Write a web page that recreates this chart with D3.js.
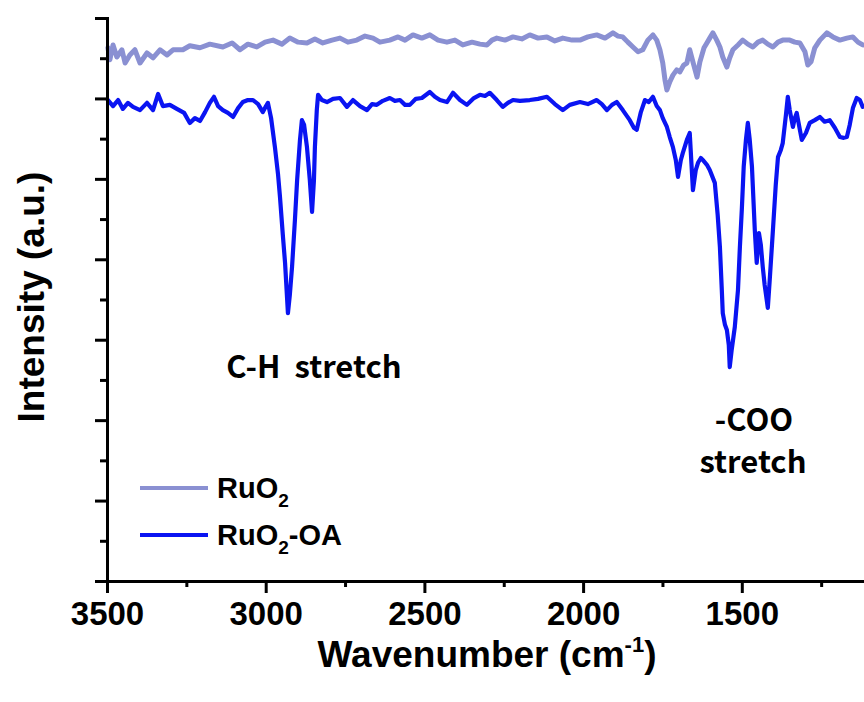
<!DOCTYPE html>
<html>
<head>
<meta charset="utf-8">
<script src="https://cdn.jsdelivr.net/npm/d3@7"></script>
<style>
  html, body { margin: 0; padding: 0; background: #fff; }
  svg { display: block; }
  .axis path, .axis line { stroke: #000; stroke-width: 3; }
  .axis text { font-family: 'Liberation Sans', Arial, sans-serif; font-weight: bold; font-size: 33px; fill: #000; }
</style>
</head>
<body>
<div id="chart"></div>
<script>
// FTIR spectra, values
// [wavenumber (cm-1), intensity (a.u., offset)]
const ruo2 = [
  [3497,13.26],[3491,12.96],[3481,13.33],[3469,13.03],[3453,13.21],[3443,12.88],[3428,13.08],[3412,13.21],
  [3396,12.88],[3374,13.13],[3355,13.01],[3333,13.21],[3311,13.08],[3292,13.21],[3261,13.21],[3239,13.31],
  [3207,13.26],[3176,13.35],[3135,13.28],[3106,13.38],[3081,13.21],[3056,13.35],[3028,13.28],[3002,13.40],
  [2977,13.45],[2949,13.35],[2924,13.50],[2898,13.40],[2870,13.38],[2845,13.48],[2820,13.38],[2791,13.45],
  [2766,13.50],[2741,13.40],[2713,13.45],[2687,13.55],[2662,13.50],[2640,13.40],[2609,13.45],[2583,13.53],
  [2561,13.45],[2536,13.58],[2508,13.50],[2483,13.58],[2457,13.45],[2429,13.40],[2404,13.45],[2379,13.33],
  [2350,13.40],[2325,13.35],[2303,13.33],[2287,13.45],[2272,13.50],[2246,13.45],[2221,13.53],[2193,13.48],
  [2168,13.58],[2142,13.50],[2114,13.53],[2089,13.43],[2064,13.50],[2035,13.45],[2010,13.45],[1985,13.53],
  [1957,13.58],[1931,13.50],[1906,13.63],[1890,13.55],[1875,13.53],[1859,13.40],[1843,13.28],[1827,13.16],
  [1812,13.21],[1796,13.45],[1780,13.58],[1768,13.45],[1758,13.21],[1749,12.88],[1742,12.46],[1736,12.21],
  [1727,12.41],[1717,12.58],[1705,12.71],[1695,12.66],[1683,12.83],[1673,12.88],[1664,13.21],[1654,12.91],
  [1641,12.53],[1632,12.91],[1619,13.26],[1610,13.38],[1601,13.50],[1591,13.63],[1579,13.45],[1569,13.28],
  [1560,13.03],[1547,12.78],[1538,13.01],[1528,13.21],[1512,13.33],[1497,13.45],[1481,13.35],[1465,13.28],
  [1449,13.40],[1434,13.45],[1418,13.35],[1402,13.28],[1386,13.40],[1371,13.45],[1349,13.45],[1333,13.40],
  [1317,13.38],[1301,13.16],[1292,12.83],[1282,12.91],[1270,13.26],[1254,13.45],[1232,13.63],[1213,13.53],
  [1191,13.45],[1169,13.50],[1150,13.53],[1134,13.40],[1119,13.33]
];

const ruo2OA = [
  [3497,11.96],[3481,11.81],[3465,11.96],[3450,11.74],[3434,11.89],[3418,11.79],[3396,11.71],[3374,11.89],
  [3355,11.71],[3339,12.11],[3324,11.81],[3302,11.84],[3280,11.74],[3257,11.64],[3239,11.39],[3223,11.51],
  [3207,11.44],[3191,11.66],[3176,11.89],[3163,12.04],[3150,11.81],[3135,11.71],[3119,11.64],[3103,11.54],
  [3087,11.76],[3072,11.91],[3056,11.96],[3040,11.96],[3024,11.86],[3009,11.66],[2999,11.81],[2993,11.89],
  [2983,11.51],[2971,10.79],[2961,10.10],[2955,9.55],[2946,8.60],[2939,7.91],[2930,6.66],[2924,7.11],
  [2917,7.81],[2908,8.97],[2901,9.97],[2892,10.97],[2886,11.46],[2879,11.34],[2870,10.79],[2861,9.97],
  [2854,9.18],[2848,9.97],[2845,10.79],[2839,11.71],[2835,12.09],[2823,11.96],[2807,11.91],[2788,11.99],
  [2766,12.01],[2744,11.79],[2725,11.96],[2703,11.81],[2681,11.71],[2665,11.86],[2650,11.84],[2631,11.94],
  [2609,12.01],[2593,11.94],[2577,11.96],[2561,11.84],[2546,11.84],[2527,11.99],[2508,12.01],[2483,12.16],
  [2467,12.04],[2451,11.96],[2429,11.91],[2410,12.14],[2388,11.96],[2366,11.84],[2344,12.01],[2325,12.09],
  [2309,12.06],[2294,12.14],[2272,11.96],[2253,11.79],[2237,11.89],[2221,11.96],[2199,11.94],[2168,11.96],
  [2142,11.99],[2114,12.04],[2089,11.86],[2064,11.71],[2042,11.84],[2010,11.91],[1985,11.86],[1957,11.96],
  [1941,11.86],[1925,11.71],[1909,11.84],[1894,11.91],[1875,11.71],[1853,11.46],[1840,11.27],[1831,11.22],
  [1818,11.66],[1805,11.96],[1793,11.91],[1780,12.04],[1768,11.81],[1758,11.71],[1749,11.51],[1736,11.29],
  [1727,11.04],[1717,10.79],[1708,10.47],[1701,10.05],[1692,10.47],[1686,10.64],[1673,10.97],[1664,11.14],
  [1654,9.72],[1645,10.22],[1638,10.40],[1629,10.52],[1623,10.47],[1610,10.35],[1601,10.22],[1585,9.90],
  [1576,9.10],[1569,8.31],[1563,7.24],[1560,6.66],[1553,6.37],[1547,6.24],[1541,5.87],[1538,5.32],
  [1532,5.74],[1522,6.32],[1512,7.24],[1506,8.31],[1500,9.23],[1494,10.30],[1487,10.97],[1481,11.39],
  [1475,10.97],[1468,10.30],[1459,8.72],[1453,7.91],[1446,8.65],[1440,8.36],[1434,7.81],[1428,7.36],
  [1418,6.79],[1412,7.49],[1402,8.72],[1393,9.85],[1386,10.54],[1377,10.72],[1371,10.89],[1361,11.59],
  [1355,12.04],[1349,11.71],[1339,11.29],[1333,11.51],[1327,11.64],[1317,11.22],[1311,10.97],[1298,11.14],
  [1286,11.39],[1270,11.46],[1254,11.54],[1239,11.42],[1223,11.46],[1207,11.27],[1191,11.04],[1179,11.02],
  [1169,11.04],[1160,11.34],[1150,11.76],[1138,12.01],[1128,11.96],[1119,11.79]
];

const xMajorTicks = [3500, 3000, 2500, 2000, 1500];
const xMinorTicks = [3250, 2750, 2250, 1750, 1250];
const yMajorTicks = [0, 2, 4, 6, 8, 10, 12, 14];
const yMinorTicks = [1, 3, 5, 7, 9, 11, 13];

const seriesNames = ['RuO2', 'RuO2-OA'];
const seriesColors = ['#8a90d2', '#0a14f2'];

const width = 864, height = 702;
const margin = { top: 18, left: 107, bottom: 121 };

const svg = d3.select('#chart').append('svg')
  .attr('width', width)
  .attr('height', height);

// 500 cm-1 per 158.7 px; the plot runs past the right edge and is cut there
const x = d3.scaleLinear()
  .domain([3500, 1000])
  .range([margin.left, margin.left + 5 * 158.7]);

const y = d3.scaleLinear()
  .domain([0, 14])
  .range([height - margin.bottom, margin.top]);

// Lines
const line = d3.line()
  .x(d => x(d[0]))
  .y(d => y(d[1]));

[ruo2, ruo2OA].forEach((data, i) => {
  svg.append('path')
    .datum(data)
    .attr('fill', 'none')
    .attr('stroke', seriesColors[i])
    .attr('stroke-width', i === 0 ? 5 : 4.2)
    .attr('stroke-linejoin', 'round')
    .attr('stroke-linecap', 'round')
    .attr('d', line);
});

// Axes
const xAxisY = y(0);
svg.append('g')
  .attr('class', 'axis')
  .attr('transform', `translate(0,${xAxisY})`)
  .call(d3.axisBottom(x).tickValues(xMinorTicks).tickSize(6).tickSizeOuter(0).tickFormat(''));

const xAxisG = svg.append('g')
  .attr('class', 'axis')
  .attr('transform', `translate(0,${xAxisY})`)
  .call(d3.axisBottom(x).tickValues(xMajorTicks).tickSize(12).tickSizeOuter(0).tickFormat(d3.format('d')));
xAxisG.selectAll('text').attr('y', 44).attr('dy', 0);

svg.append('g')
  .attr('class', 'axis')
  .attr('transform', `translate(${margin.left},0)`)
  .call(d3.axisLeft(y).tickValues(yMinorTicks).tickSize(7).tickSizeOuter(0).tickFormat(''));

svg.append('g')
  .attr('class', 'axis')
  .attr('transform', `translate(${margin.left},0)`)
  .call(d3.axisLeft(y).tickValues(yMajorTicks).tickSize(12).tickSizeOuter(0).tickFormat(''));

svg.selectAll('.axis path.domain').attr('stroke-linecap', 'square');

// Axis titles
const xTitle = svg.append('text')
  .attr('x', 487)
  .attr('y', 667)
  .attr('text-anchor', 'middle')
  .attr('font-family', "'Liberation Sans', Arial, sans-serif")
  .attr('font-weight', 'bold')
  .attr('font-size', 37)
  .text('Wavenumber (cm');
xTitle.append('tspan').attr('font-size', 22).attr('dy', -15).text('-1');
xTitle.append('tspan').attr('dy', 15).text(')');

svg.append('text')
  .attr('transform', 'translate(44,297) rotate(-90)')
  .attr('text-anchor', 'middle')
  .attr('font-family', "'Liberation Sans', Arial, sans-serif")
  .attr('font-weight', 'bold')
  .attr('font-size', 37)
  .text('Intensity (a.u.)');

// Peak annotations
const annFont = "'Noto Sans CJK KR', 'Noto Sans', sans-serif";
svg.append('text')
  .attr('x', 314).attr('y', 378)
  .attr('text-anchor', 'middle')
  .attr('font-family', annFont)
  .attr('font-weight', 'bold')
  .attr('font-size', 31)
  .attr('xml:space', 'preserve')
  .text('C-H  stretch');

svg.append('text')
  .attr('x', 754).attr('y', 431)
  .attr('text-anchor', 'middle')
  .attr('font-family', annFont)
  .attr('font-weight', 'bold')
  .attr('font-size', 31)
  .text('-COO');

svg.append('text')
  .attr('x', 753).attr('y', 473)
  .attr('text-anchor', 'middle')
  .attr('font-family', annFont)
  .attr('font-weight', 'bold')
  .attr('font-size', 31)
  .text('stretch');

// Legend
const legend = svg.append('g').attr('transform', 'translate(140,488)');
seriesNames.forEach((name, i) => {
  const row = legend.append('g').attr('transform', `translate(0,${i * 47})`);
  row.append('line')
    .attr('x1', 0).attr('x2', 68)
    .attr('stroke', seriesColors[i])
    .attr('stroke-width', 4);
  const t = row.append('text')
    .attr('x', 77).attr('y', 10)
    .attr('font-family', "'Liberation Sans', Arial, sans-serif")
    .attr('font-weight', 'bold')
    .attr('font-size', 29)
    .text('RuO');
  t.append('tspan').attr('font-size', 19).attr('dy', 9).text('2');
  if (name.length > 4) t.append('tspan').attr('dy', -9).text(name.slice(4));
});
</script>
</body>
</html>
